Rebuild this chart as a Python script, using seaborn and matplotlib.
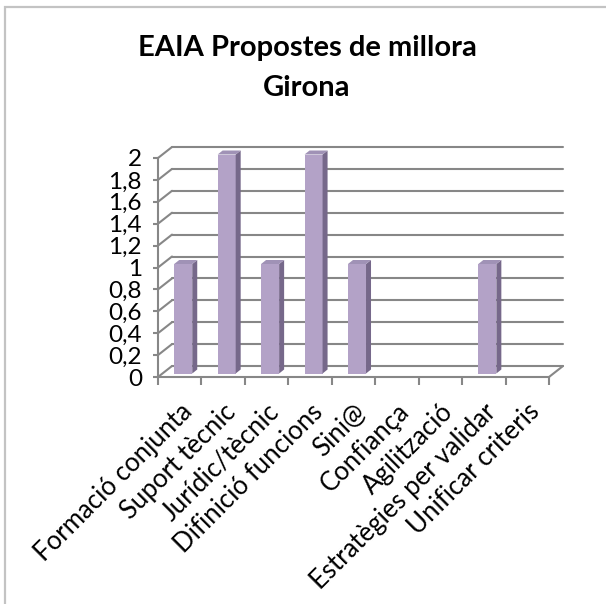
import numpy as np
import pandas as pd
import seaborn as sns
import matplotlib.pyplot as plt
from matplotlib.patches import Polygon, Rectangle

categories = ["Formació conjunta", "Suport tècnic", "Jurídic/tècnic", "Difinició funcions",
              "Sini@", "Confiança", "Agilització", "Estratègies per validar", "Unificar criteris"]
values = [1, 2, 1, 2, 1, 0, 0, 1, 0]
y_ticks = [0, 0.2, 0.4, 0.6, 0.8, 1, 1.2, 1.4, 1.6, 1.8, 2]
y_labels = ["0", "0,2", "0,4", "0,6", "0,8", "1", "1,2", "1,4", "1,6", "1,8", "2"]
title_lines = ["EAIA Propostes de millora", "Girona"]

FRONT = "#B3A2C7"
SIDE = "#76688A"
TOP = "#A092B6"
GRID = "#878787"
BORDER = "#C3C3C3"

DPI = 100
W, H = 606, 604

sns.set_theme(style="white")
plt.rcParams['font.family'] = ['Lato', 'DejaVu Sans']

fig = plt.figure(figsize=(W / DPI, H / DPI), dpi=DPI)

# front plane of the 3d box, in pixels
left, right, top, bottom = 158, 549, 158, 377
ax = fig.add_axes([left / W, 1 - bottom / H, (right - left) / W, (bottom - top) / H])

df = pd.DataFrame({"categoria": categories, "valor": values})
sns.barplot(data=df, x="categoria", y="valor", color=FRONT, saturation=1,
            width=0.415, edgecolor="none", ax=ax, zorder=3)

n = len(categories)
ax.set_xlim(-0.5, n - 0.5)
ax.set_ylim(0, 2)
ax.set_xlabel("")
ax.set_ylabel("")

# pixel -> data conversion for the depth effect
px_cat = (right - left) / n
px_unit = (bottom - top) / 2
DX, DY = 14 / px_cat, 11 / px_unit      # full depth of the box
BX, BY = 3.5 / px_cat, 3.5 / px_unit    # bar front offset
BDX, BDY = 5 / px_cat, 4 / px_unit      # bar depth

# back wall gridlines and left diagonals
for y in y_ticks:
    ax.plot([-0.5 + DX, n - 0.5 + DX], [y + DY, y + DY], color=GRID, lw=1.5,
            clip_on=False, zorder=1)
    ax.plot([-0.5, -0.5 + DX], [y, y + DY], color=GRID, lw=1.5, clip_on=False, zorder=1)
ax.plot([n - 0.5, n - 0.5 + DX], [0, DY], color=GRID, lw=1.5, clip_on=False, zorder=1)

# 3d faces on bars
for p in list(ax.patches):
    h = p.get_height()
    x0 = p.get_x() + BX
    w = p.get_width()
    p.set_x(x0)
    p.set_y(BY)
    p.set_clip_on(False)
    if h <= 0:
        continue
    side = [(x0 + w, BY), (x0 + w + BDX, BY + BDY), (x0 + w + BDX, BY + h + BDY), (x0 + w, BY + h)]
    topf = [(x0, BY + h), (x0 + w, BY + h), (x0 + w + BDX, BY + h + BDY), (x0 + BDX, BY + h + BDY)]
    ax.add_patch(Polygon(side, closed=True, facecolor=SIDE, edgecolor="none", zorder=3, clip_on=False))
    ax.add_patch(Polygon(topf, closed=True, facecolor=TOP, edgecolor="none", zorder=3, clip_on=False))

for s in ["top", "right"]:
    ax.spines[s].set_visible(False)
for s in ["left", "bottom"]:
    ax.spines[s].set_color(GRID)
    ax.spines[s].set_linewidth(1.5)

ax.set_yticks(y_ticks)
ax.set_yticklabels(y_labels)
ax.tick_params(axis="y", direction="out", length=3.6, width=1.5, color=GRID, pad=8,
               labelsize=17.5, labelcolor="black", left=True)
ax.set_xticks(np.arange(n))
ax.set_xticks(np.arange(n + 1) - 0.5, minor=True)
ax.tick_params(axis="x", which="minor", direction="out", length=5.8, width=1.5, color=GRID, bottom=True)
ax.tick_params(axis="x", which="major", length=0, pad=16, labelsize=18.5, labelcolor="black")
for lab in ax.get_xticklabels():
    lab.set_rotation(45)
    lab.set_ha("right")
    lab.set_va("top")
    lab.set_rotation_mode("anchor")

ax.set_facecolor("none")
ax.grid(False)

fig.text(307 / W, 1 - 48 / H, title_lines[0], ha="center", va="center",
         fontsize=21, fontweight="bold", color="black")
fig.text(307 / W, 1 - 88 / H, title_lines[1], ha="center", va="center",
         fontsize=21, fontweight="bold", color="black")

# chart area border (left and top edges visible)
fig.patches.append(Rectangle((5 / W, -0.1), 1.2, 1.1 - 7 / H, transform=fig.transFigure,
                             fill=False, edgecolor=BORDER, lw=1.6))

fig.savefig("out.png", dpi=DPI, facecolor="white")
